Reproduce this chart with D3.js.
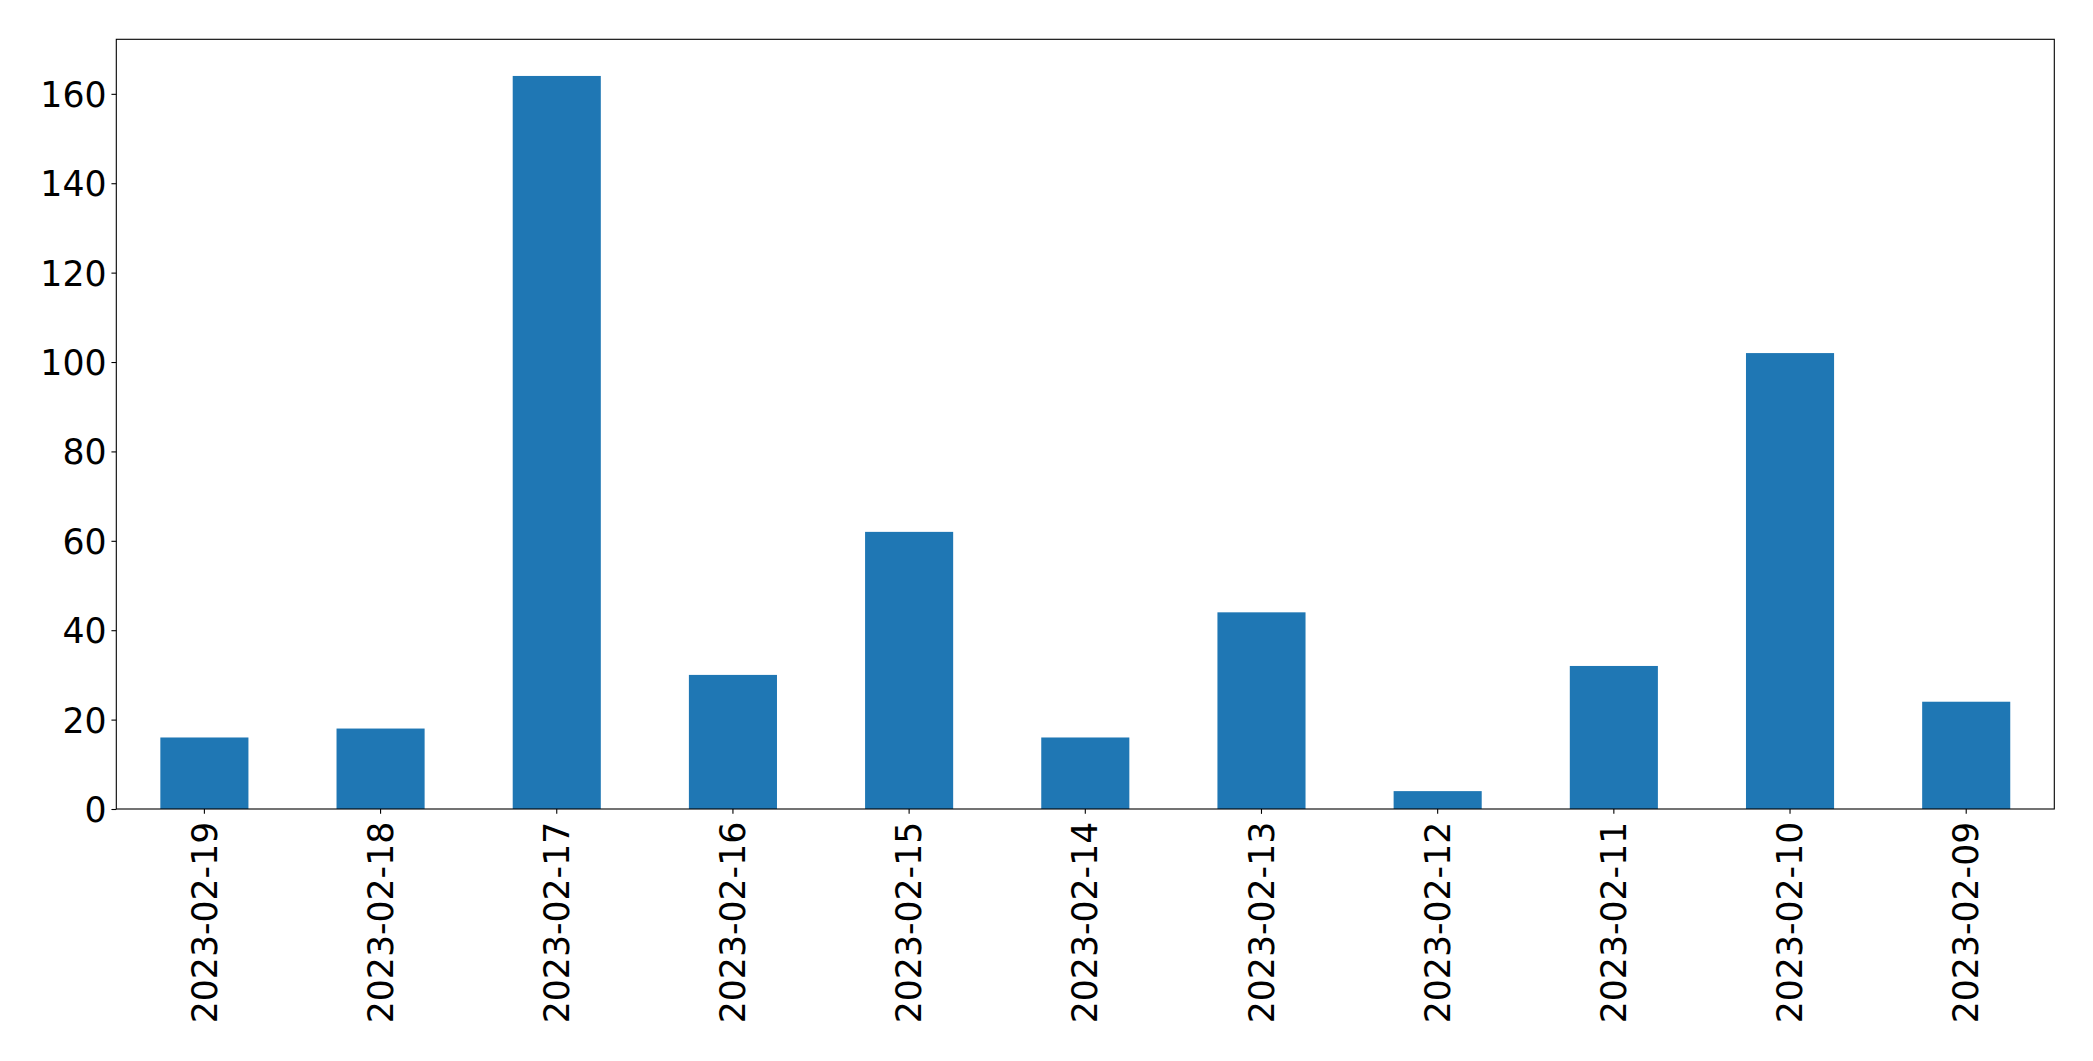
<!DOCTYPE html>
<html>
<head>
<meta charset="utf-8">
<script src="https://cdn.jsdelivr.net/npm/d3@7"></script>
<style>
  html, body { margin: 0; padding: 0; background: #fff; }
  svg { display: block; }
  .tick text { font-family: "DejaVu Sans", sans-serif; fill: #000; }
</style>
</head>
<body>
<svg id="chart" width="2093" height="1061"></svg>
<script>
const categories = ["2023-02-19","2023-02-18","2023-02-17","2023-02-16","2023-02-15","2023-02-14","2023-02-13","2023-02-12","2023-02-11","2023-02-10","2023-02-09"];
const values = [16, 18, 164, 30, 62, 16, 44, 4, 32, 102, 24];
const yTicks = [0, 20, 40, 60, 80, 100, 120, 140, 160];

const W = 2093, H = 1061;
const margin = { left: 116.3, right: W - 2054.3, top: 39.3, bottom: H - 809 };
const svg = d3.select("#chart");
const g = svg.append("g").attr("transform", `translate(${margin.left},${margin.top})`);
const iw = W - margin.left - margin.right;
const ih = H - margin.top - margin.bottom;

const x = d3.scaleBand().domain(categories).range([0, iw]).paddingInner(0.5).paddingOuter(0.25);
const y = d3.scaleLinear().domain([0, d3.max(values) * 1.05]).range([ih, 0]);

g.selectAll("rect.bar").data(values).join("rect")
  .attr("class", "bar")
  .attr("x", (d, i) => x(categories[i]))
  .attr("y", d => y(d))
  .attr("width", x.bandwidth())
  .attr("height", d => ih - y(d))
  .attr("fill", "#1f77b4");

const fs = "34.7px";
const tickLen = 4.86, pad = 4.86;

const yAxis = g.append("g").call(d3.axisLeft(y).tickValues(yTicks).tickSize(tickLen).tickPadding(pad).tickSizeOuter(0));
yAxis.select(".domain").remove();
yAxis.selectAll(".tick line").attr("stroke", "#000").attr("stroke-width", 1.1);
yAxis.selectAll(".tick text").style("font-size", fs).attr("dy", "0.36em");

const xAxis = g.append("g").attr("transform", `translate(0,${ih})`)
  .call(d3.axisBottom(x).tickSize(tickLen).tickPadding(pad).tickSizeOuter(0));
xAxis.select(".domain").remove();
xAxis.selectAll(".tick line").attr("stroke", "#000").attr("stroke-width", 1.1);
xAxis.selectAll(".tick text")
  .style("font-size", fs)
  .attr("transform", "rotate(-90)")
  .attr("text-anchor", "end")
  .attr("x", -(tickLen + pad + 3))
  .attr("y", 0)
  .attr("dy", "0.35em");

g.append("rect").attr("x", 0).attr("y", 0).attr("width", iw).attr("height", ih)
  .attr("fill", "none").attr("stroke", "#000").attr("stroke-width", 1.1);
</script>
</body>
</html>
